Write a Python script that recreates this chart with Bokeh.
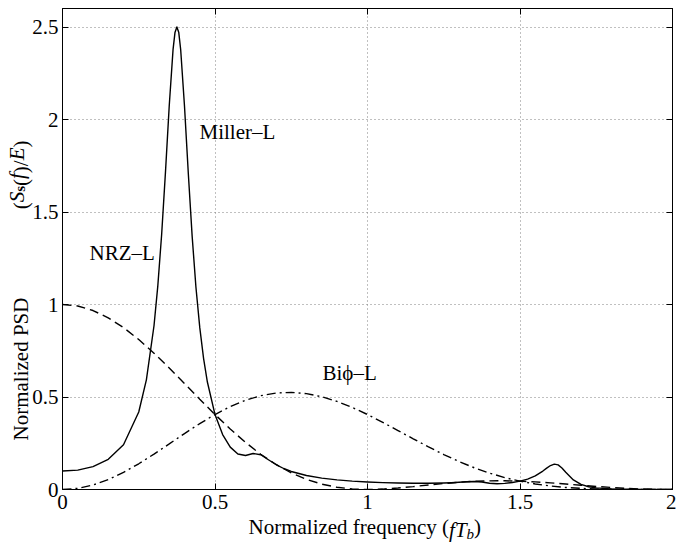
import math
from bokeh.plotting import figure
from bokeh.models import FixedTicker, LinearAxis, Label, Range1d
from bokeh.embed import file_html
from bokeh.resources import INLINE

# ---------------- data ----------------
freq = [0.0, 0.05, 0.1, 0.15, 0.2, 0.25, 0.3, 0.35, 0.4, 0.45,
        0.5, 0.55, 0.6, 0.65, 0.7, 0.75, 0.8, 0.85, 0.9, 0.95,
        1.0, 1.05, 1.1, 1.15, 1.2, 1.25, 1.3, 1.35, 1.4, 1.45,
        1.5, 1.55, 1.6, 1.65, 1.7, 1.75, 1.8, 1.85, 1.9, 1.95, 2.0]

nrz_l = [1.0, 0.9918, 0.9675, 0.9281, 0.8751, 0.8106, 0.7368, 0.6566, 0.5728, 0.4881,
         0.4053, 0.3267, 0.2546, 0.1904, 0.1353, 0.0901, 0.0547, 0.0289, 0.0119, 0.0028,
         0.0, 0.0023, 0.0080, 0.0158, 0.0243, 0.0324, 0.0392, 0.0441, 0.0468, 0.0470,
         0.0450, 0.0411, 0.0358, 0.0295, 0.0229, 0.0165, 0.0108, 0.0061, 0.0027, 0.0007, 0.0]

biphase_l = [0.0, 0.0061, 0.0243, 0.0535, 0.0924, 0.1391, 0.1913, 0.2466, 0.3024, 0.3560,
             0.4053, 0.4479, 0.4823, 0.5070, 0.5213, 0.5249, 0.5181, 0.5015, 0.4762, 0.4435,
             0.4053, 0.3631, 0.3188, 0.2740, 0.2303, 0.1890, 0.1511, 0.1175, 0.0886, 0.0644,
             0.0450, 0.0300, 0.0189, 0.0111, 0.0060, 0.0028, 0.0011, 0.0004, 0.0001, 0.0, 0.0]

miller_freq = [0.0, 0.05, 0.1, 0.15, 0.2, 0.25, 0.275, 0.3, 0.3125, 0.325,
               0.3375, 0.35, 0.3625, 0.36875, 0.375, 0.38125, 0.3875, 0.4, 0.4125, 0.425,
               0.4375, 0.45, 0.4625, 0.475, 0.5, 0.525, 0.55, 0.575, 0.6, 0.625,
               0.65, 0.675, 0.7, 0.725, 0.75, 0.8, 0.85, 0.9, 0.95, 1.0,
               1.05, 1.1, 1.15, 1.2, 1.25, 1.275, 1.3, 1.325, 1.35, 1.375,
               1.4, 1.425, 1.45, 1.475, 1.5, 1.525, 1.55, 1.575, 1.5875, 1.6,
               1.6125, 1.625, 1.6375, 1.65, 1.675, 1.7, 1.725, 1.75, 1.8, 1.85,
               1.9, 2.0]

miller_l = [0.100, 0.105, 0.124, 0.163, 0.242, 0.419, 0.593, 0.885, 1.101, 1.377,
            1.713, 2.076, 2.379, 2.470, 2.500, 2.470, 2.377, 2.072, 1.708, 1.371,
            1.093, 0.876, 0.709, 0.581, 0.405, 0.297, 0.229, 0.192, 0.184, 0.1945,
            0.188, 0.161, 0.135, 0.1135, 0.0975, 0.0756, 0.0616, 0.0521, 0.0453, 0.0405,
            0.0371, 0.0349, 0.0336, 0.0336, 0.0351, 0.0367, 0.039, 0.0419, 0.0435, 0.0402,
            0.0338, 0.0313, 0.033, 0.0376, 0.045, 0.0564, 0.0738, 0.0998, 0.1153, 0.1295,
            0.1373, 0.1331, 0.1166, 0.0934, 0.0519, 0.0276, 0.0151, 0.0086, 0.0030, 0.0011,
            0.0003, 0.0]

x_ticks = [0, 0.5, 1, 1.5, 2]
x_tick_labels = ["0", "0.5", "1", "1.5", "2"]
y_ticks = [0, 0.5, 1, 1.5, 2, 2.5]
y_tick_labels = ["0", "0.5", "1", "1.5", "2", "2.5"]

curve_names = ["NRZ\u2013L", "Miller\u2013L", "Bi\u03d5\u2013L"]

# axis title pieces: (text, style, size)
x_title = [("Normalized frequency (", "normal", 21), ("fT", "italic", 21),
           ("b", "italic", 15), (")", "normal", 21)]
y_title_a = [("Normalized PSD", "normal", 21)]
y_title_b = [("(", "normal", 21), ("S", "italic", 21), ("s", "bold", 15),
             ("(", "normal", 21), ("f", "italic", 21), (")/", "normal", 21),
             ("E", "italic", 21), (")", "normal", 21)]

# Times / Liberation Serif advance widths (1/1000 em), used for placement only
ADV = {("Normalized frequency (", "normal"): 9552, ("fT", "italic"): 834,
       ("b", "italic"): 500, (")", "normal"): 333, ("(", "normal"): 333,
       ("Normalized PSD", "normal"): 6805, ("S", "italic"): 500,
       ("s", "bold"): 389, ("f", "italic"): 278, (")/", "normal"): 611,
       ("E", "italic"): 611}

# ---------------- layout ----------------
FONT = "Liberation Serif"
MB_LEFT, MB_TOP, MB_BOTTOM = 62, 8, 55
FW, FH = 610, 481
X_MAX, Y_MAX = 2.0, 2.6
FRAME_L = MB_LEFT
FRAME_B = MB_TOP + FH
XS = FW / X_MAX
YS = FH / Y_MAX


def px2x(px):
    return round((px - FRAME_L) / XS, 5)


def px2y(py):
    return round((FRAME_B - py) / YS, 5)


p = figure(frame_width=FW, frame_height=FH,
           x_range=Range1d(0, X_MAX), y_range=Range1d(0, Y_MAX),
           output_backend="svg", toolbar_location=None,
           min_border_left=MB_LEFT, min_border_right=4,
           min_border_top=MB_TOP, min_border_bottom=MB_BOTTOM,
           background_fill_color="white", border_fill_color="white",
           outline_line_color="black", outline_line_width=1)

for ax, ticks, labels in ((p.xaxis[0], x_ticks, x_tick_labels),
                          (p.yaxis[0], y_ticks, y_tick_labels)):
    ax.ticker = FixedTicker(ticks=ticks)
    ax.major_label_overrides = {t: l for t, l in zip(ticks, labels)}
    ax.major_label_text_font = FONT
    ax.major_label_text_font_size = "21px"
    ax.major_label_text_color = "black"
    ax.major_tick_in = 6
    ax.major_tick_out = 0
    ax.minor_tick_line_color = None
    ax.axis_line_color = "black"
    ax.major_tick_line_color = "black"
p.xaxis.major_label_standoff = 5
p.yaxis.major_label_standoff = 4

for side, ticks in (("above", x_ticks), ("right", y_ticks)):
    ax = LinearAxis(ticker=FixedTicker(ticks=ticks),
                    major_label_overrides={t: "" for t in ticks},
                    major_label_text_font_size="0px", major_label_standoff=0,
                    major_tick_in=6, major_tick_out=0,
                    minor_tick_line_color=None, axis_line_color="black")
    p.add_layout(ax, side)

for g, ticks in ((p.xgrid[0], x_ticks), (p.ygrid[0], y_ticks)):
    g.ticker = FixedTicker(ticks=ticks)
    g.grid_line_color = "#808080"
    g.grid_line_dash = "1 3"
    g.grid_line_width = 1

# ---------------- curves ----------------
p.line(freq, nrz_l, line_color="black", line_width=1.4, line_dash="9 5")
p.line(freq, biphase_l, line_color="black", line_width=1.4, line_dash="9 4 2 4")
p.line(miller_freq, miller_l, line_color="black", line_width=1.4, line_join="round")


def add_text(px, py, text, size=21, style="normal"):
    p.add_layout(Label(x=px2x(px), y=px2y(py), text=text, text_font=FONT,
                       text_font_size=f"{size}px", text_font_style=style,
                       text_color="black", text_align="left",
                       text_baseline="alphabetic"))


add_text(89, 253, curve_names[0])
add_text(199, 132, curve_names[1])
add_text(322, 372, curve_names[2])


# ---------------- axis titles built from tick-label-only axes ----------------
def piece_axis(side, placed, style, size, standoff, vertical=False):
    ticks = [t for t, _ in placed]
    ax = LinearAxis(ticker=FixedTicker(ticks=ticks),
                    major_label_overrides={t: s for t, s in placed},
                    major_label_text_font=FONT,
                    major_label_text_font_size=f"{size}px",
                    major_label_text_font_style=style,
                    major_label_text_color="black",
                    major_label_standoff=standoff,
                    major_tick_in=0, major_tick_out=0,
                    major_tick_line_color=None, minor_tick_line_color=None,
                    axis_line_color=None)
    if vertical:
        ax.major_label_orientation = "vertical"
    p.add_layout(ax, side)


# x title: pieces laid out left to right starting at page x = 248
groups = {}
cx = 248.0
for txt, style, size in x_title:
    w = ADV[(txt, style)] * size / 1000.0
    groups.setdefault((style, size), []).append((px2x(cx + w / 2), txt))
    cx += w
piece_axis("below", groups[("normal", 21)], "normal", 21, 3)
piece_axis("below", groups[("italic", 21)], "italic", 21, -24)
piece_axis("below", groups[("italic", 15)], "italic", 15, -19)

# y title: lower part starts at page y = 440, upper part ends at page y = 140
ygroups = {}
cy = 440.0
for txt, style, size in y_title_a:
    w = ADV[(txt, style)] * size / 1000.0
    ygroups.setdefault((style, size), []).append((px2y(cy - w / 2), txt))
    cy -= w
total_b = sum(ADV[(t, s)] * z / 1000.0 for t, s, z in y_title_b)
cy = 140.0 + total_b
for txt, style, size in y_title_b:
    w = ADV[(txt, style)] * size / 1000.0
    ygroups.setdefault((style, size), []).append((px2y(cy - w / 2), txt))
    cy -= w
piece_axis("left", ygroups[("normal", 21)], "normal", 21, -4, vertical=True)
piece_axis("left", ygroups[("italic", 21)], "italic", 21, -23, vertical=True)
piece_axis("left", ygroups[("bold", 15)], "bold", 15, -26, vertical=True)

open("out.html", "w").write(file_html(p, INLINE))
